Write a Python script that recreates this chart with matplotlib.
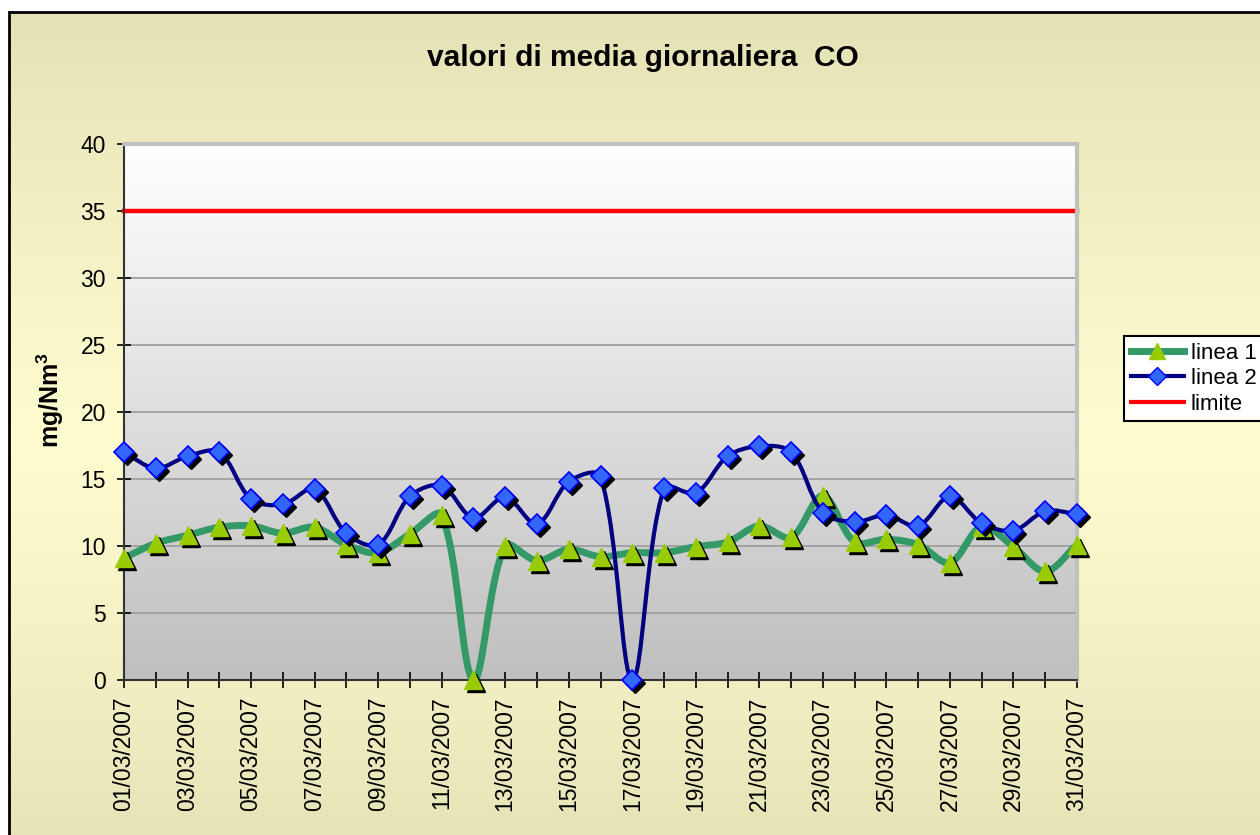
import numpy as np
import matplotlib
matplotlib.use("Agg")
import matplotlib.pyplot as plt
from matplotlib.path import Path
from matplotlib.patches import PathPatch, Rectangle
from matplotlib.lines import Line2D
from matplotlib.colors import LinearSegmentedColormap, to_rgb
from matplotlib import transforms as mtrans

plt.rcParams['font.family'] = ['Liberation Sans', 'DejaVu Sans']
plt.rcParams['mathtext.fontset'] = 'custom'
plt.rcParams['mathtext.rm'] = 'Liberation Sans'
plt.rcParams['mathtext.bf'] = 'Liberation Sans:bold'

# data (mg/Nm3, march 2007)
days = list(range(1, 32))
date_labels = [f"{d:02d}/03/2007" if d % 2 == 1 else "" for d in days]
linea1 = [9.1, 10.2, 10.8, 11.4, 11.5, 10.95, 11.4, 10.1, 9.5, 10.9,
          12.3, 0.0, 10.0, 8.9, 9.75, 9.2, 9.5, 9.5, 9.95, 10.3,
          11.5, 10.65, 13.75, 10.3, 10.5, 10.1, 8.75, 11.45, 9.95, 8.1, 10.1]
linea2 = [17.0, 15.8, 16.7, 17.0, 13.5, 13.1, 14.25, 10.95, 10.1, 13.7,
          14.5, 12.1, 13.65, 11.65, 14.8, 15.2, 0.0, 14.3, 13.95, 16.7,
          17.45, 17.0, 12.5, 11.8, 12.3, 11.5, 13.7, 11.7, 11.15, 12.6, 12.4]
limite = [35] * 31

colors = {
    'green': '#339966',
    'tri': '#99CC00',
    'navy': '#000080',
    'diamond': '#3366FF',
    'red': '#FF0000',
    'area_edge': '#E2E0B4',
    'area_mid': '#FFFDD0',
}


def smooth_path(ax, xs, ys, tension=1 / 3):
    # excel-like smoothed line, tangents weighted by segment length on screen
    sx = ax.transData.transform((2, 0))[0] - ax.transData.transform((1, 0))[0]
    sy = ax.transData.transform((0, 1))[1] - ax.transData.transform((0, 0))[1]
    pts = np.column_stack([np.asarray(xs) * sx, np.asarray(ys) * sy]).astype(float)
    n = len(pts)
    cin = pts.copy()
    cout = pts.copy()
    for i in range(n):
        a = pts[max(i - 1, 0)]
        b = pts[min(i + 1, n - 1)]
        d0 = np.hypot(*(pts[i] - a))
        d1 = np.hypot(*(b - pts[i]))
        if d0 + d1 == 0:
            continue
        tang = b - a
        cout[i] = pts[i] + tang * tension * d1 / (d0 + d1)
        cin[i] = pts[i] - tang * tension * d0 / (d0 + d1)
    verts = [pts[0]]
    codes = [Path.MOVETO]
    for i in range(n - 1):
        verts += [cout[i], cin[i + 1], pts[i + 1]]
        codes += [Path.CURVE4] * 3
    verts = np.array(verts) / [sx, sy]
    return Path(verts, codes)


fig = plt.figure(figsize=(12.6, 8.35), dpi=100)

# chart area background with vertical gradient
bg = fig.add_axes([9 / 1260, 0, 1 - 9 / 1260, 1 - 12 / 835])
bg.set_axis_off()
t = np.linspace(0, 1, 200)
w = np.clip(1 - np.abs(t - 0.52) / 0.52, 0, 1) ** 0.8
c_edge = np.array(to_rgb(colors['area_edge']))
c_mid = np.array(to_rgb(colors['area_mid']))
grad = c_edge[None, :] * (1 - w[:, None]) + c_mid[None, :] * w[:, None]
bg.imshow(grad[:, None, :], aspect='auto', extent=[0, 1, 0, 1], origin='upper')
bg.set_xlim(0, 1)
bg.set_ylim(0, 1)
fig.patches.append(Rectangle((9 / 1260, -0.01), 1.0, 1 - 12 / 835 + 0.01,
                             transform=fig.transFigure, fill=False,
                             edgecolor='black', linewidth=2, zorder=5))

ax = fig.add_axes([124 / 1260, 1 - 680 / 835, (1077 - 124) / 1260, (680 - 144) / 835])
ax.set_xlim(1, 31)
ax.set_ylim(0, 40)

# plot area gradient white -> grey
cmap = LinearSegmentedColormap.from_list('pa', ['#FFFFFF', '#BFBFBF'])
ax.imshow(np.linspace(0, 1, 256)[:, None], cmap=cmap, aspect='auto',
          extent=[1, 31, 0, 40], origin='upper', zorder=0)

for yv in range(5, 40, 5):
    ax.axhline(yv, color='#9A9A9A', linewidth=1.2, zorder=1)

ax.plot(days, limite, color=colors['red'], linewidth=3.2, zorder=2, clip_on=False)

shadow = mtrans.offset_copy(ax.transData, fig=fig, x=3, y=-3, units='dots')

ax.add_patch(PathPatch(smooth_path(ax, days, linea1), fill=False,
                       edgecolor=colors['green'], linewidth=5, zorder=3))
ax.plot(days, linea1, linestyle='none', marker='^', markersize=13,
        markerfacecolor='black', markeredgecolor='black', transform=shadow,
        zorder=4, clip_on=False)
ax.plot(days, linea1, linestyle='none', marker='^', markersize=13,
        markerfacecolor=colors['tri'], markeredgecolor=colors['tri'],
        zorder=5, clip_on=False)

ax.add_patch(PathPatch(smooth_path(ax, days, linea2), fill=False,
                       edgecolor=colors['navy'], linewidth=3, zorder=6))
ax.plot(days, linea2, linestyle='none', marker='D', markersize=10.5,
        markerfacecolor='black', markeredgecolor='black', transform=shadow,
        zorder=7, clip_on=False)
ax.plot(days, linea2, linestyle='none', marker='D', markersize=10.5,
        markerfacecolor=colors['diamond'], markeredgecolor='#0000FF',
        markeredgewidth=1.2, zorder=8, clip_on=False)

ax.set_xticks(days)
ax.set_xticklabels(date_labels, rotation=90, fontsize=16.5)
ax.set_yticks(range(0, 41, 5))
ax.tick_params(axis='y', labelsize=16.5, direction='inout', length=10, width=1.2, pad=8)
ax.tick_params(axis='x', direction='inout', length=12, width=1.2, pad=6)

for side in ['left', 'bottom']:
    ax.spines[side].set_color('#333333')
    ax.spines[side].set_linewidth(1.5)
for side in ['top', 'right']:
    ax.spines[side].set_color('#C0C0C0')
    ax.spines[side].set_linewidth(3)

fig.text(643 / 1260, 1 - 58 / 835, "valori di media giornaliera  CO",
         ha='center', va='center', fontsize=21.5, fontweight='bold')
fig.text(50 / 1260, 1 - 400 / 835, r"mg/Nm$^{\mathbf{3}}$", rotation=90,
         ha='center', va='center', fontsize=18, fontweight='bold')

handles = [
    Line2D([], [], color=colors['green'], linewidth=5, marker='^', markersize=11,
           markerfacecolor=colors['tri'], markeredgecolor=colors['tri']),
    Line2D([], [], color=colors['navy'], linewidth=3, marker='D', markersize=9,
           markerfacecolor=colors['diamond'], markeredgecolor='#0000FF'),
    Line2D([], [], color=colors['red'], linewidth=3),
]
leg = fig.legend(handles, ["linea 1", "linea 2", "limite"], loc='upper left',
                 bbox_to_anchor=(1124 / 1260, 1 - 336 / 835), fontsize=16,
                 frameon=True, fancybox=False, edgecolor='black', framealpha=1,
                 borderaxespad=0, handlelength=2.4, borderpad=0.3,
                 labelspacing=0.2, handletextpad=0.3)
leg.get_frame().set_linewidth(1.5)

fig.savefig("out.png", dpi=100)
